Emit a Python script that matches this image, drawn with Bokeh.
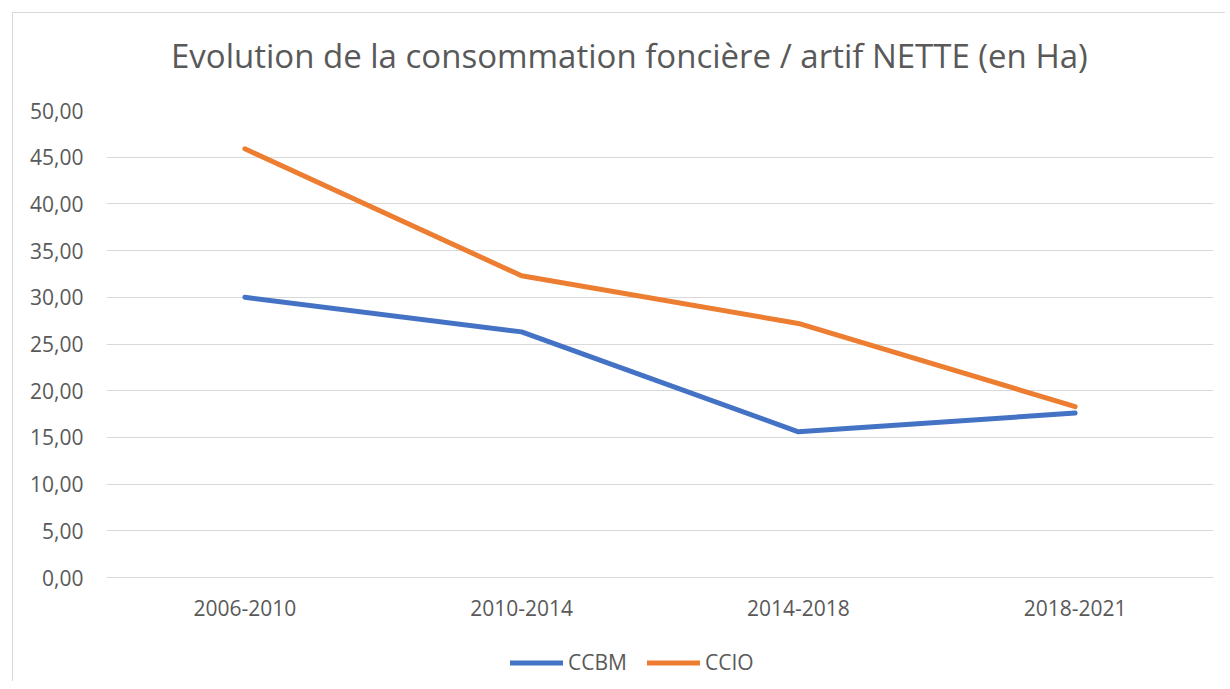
from bokeh.plotting import figure
from bokeh.layouts import column
from bokeh.models import Legend, LegendItem, FixedTicker, CustomJSTickFormatter, Range1d, Div
from bokeh.embed import file_html
from bokeh.resources import INLINE

categories = ["2006-2010", "2010-2014", "2014-2018", "2018-2021"]
ccbm = [30.0, 26.3, 15.6, 17.6]
ccio = [45.9, 32.3, 27.2, 18.3]
y_ticks = [0, 5, 10, 15, 20, 25, 30, 35, 40, 45, 50]
series_names = ["CCBM", "CCIO"]
series_colors = ["#4472C4", "#ED7D31"]
title_text = "Evolution de la consommation foncière / artif NETTE (en Ha)"

FONT = "Open Sans"
TXT = "#595959"
GRID = "#D9D9D9"

title_div = Div(text=title_text, width=1212, height=76, margin=0,
                styles={"font-family": "'Open Sans'", "font-size": "33px", "color": TXT,
                        "line-height": "86px", "text-indent": "158px", "white-space": "nowrap"})

p = figure(x_range=categories, y_range=(0, 50), width=1212, height=541,
           output_backend="svg", toolbar_location=None,
           min_border_left=93, min_border_right=12, min_border_top=21, min_border_bottom=53)
p.outline_line_color = None
p.background_fill_color = "white"
p.border_fill_color = None

p.xgrid.grid_line_color = None
p.ygrid.grid_line_color = GRID
p.ygrid.grid_line_width = 1

p.yaxis.ticker = FixedTicker(ticks=y_ticks)
p.yaxis.formatter = CustomJSTickFormatter(code="return tick.toFixed(2).replace('.', ',');")
p.yaxis.axis_line_color = None
p.yaxis.major_tick_line_color = None
p.yaxis.minor_tick_line_color = None
p.yaxis.major_label_standoff = 17

p.xaxis.axis_line_color = GRID
p.xaxis.major_tick_line_color = None
p.xaxis.minor_tick_line_color = None
p.xaxis.major_label_standoff = 16

for ax in (p.xaxis, p.yaxis):
    ax.major_label_text_font = FONT
    ax.major_label_text_font_size = "21px"
    ax.major_label_text_color = TXT

series = [ccbm, ccio]
for vals, col in zip(series, series_colors):
    p.line(categories, vals, line_color=col, line_width=5, line_cap="round", line_join="round")

# legend strip below the chart (its own series lie outside its visible range)
pl = figure(width=1212, height=51, x_range=p.x_range, y_range=Range1d(-2, -1),
            output_backend="svg", toolbar_location=None,
            min_border_left=0, min_border_right=0, min_border_top=0, min_border_bottom=0)
pl.axis.visible = False
pl.grid.visible = False
pl.outline_line_color = None
pl.background_fill_color = "white"
pl.border_fill_color = "white"

items = []
for name, vals, col in zip(series_names, series, series_colors):
    r = pl.line(categories, vals, line_color=col, line_width=5, line_cap="round")
    items.append(LegendItem(label=name, renderers=[r]))

legend = Legend(items=items, orientation="horizontal", location=(404, 5),
                label_text_font=FONT, label_text_font_size="21px", label_text_color=TXT,
                glyph_width=53, glyph_height=21, label_standoff=5, spacing=20,
                padding=0, margin=0, border_line_color=None, background_fill_alpha=0)
pl.add_layout(legend, "center")

layout = column(title_div, p, pl, spacing=0,
                styles={"margin-left": "12px", "margin-top": "12px",
                        "border-left": "1px solid #D9D9D9", "border-top": "1px solid #D9D9D9"})

open("out.html", "w").write(file_html(layout, INLINE))
